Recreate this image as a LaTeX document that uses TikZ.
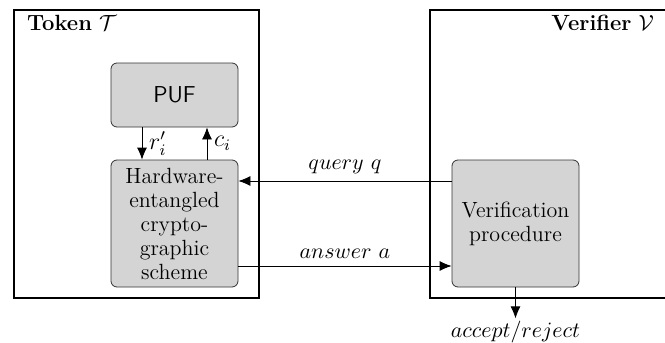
\documentclass[tikz,border=0pt]{standalone}
\usetikzlibrary{arrows.meta}
\begin{document}
\begin{tikzpicture}[x=0.5pt,y=-0.5pt,>={Latex[length=6pt,width=5pt]},font=\fontsize{11}{12}\selectfont]
	\clip (0,0) rectangle (665,343);
	
	\node (token) [draw,line width=1pt,minimum width=122.5pt,minimum height=144pt,inner sep=0pt] at (136.5,154) {};
	\node (verifier) [draw,line width=1pt,minimum width=130pt,minimum height=144pt,inner sep=0pt] at (560,154) {};
	\node (tokentitle) [anchor=west] at (20,23) {\textbf{Token} $\mathcal{T}$};
	\node (verifiertitle) [anchor=east] at (661,23) {\textbf{Verifier} $\mathcal{V}$};
	\begin{scope}[every node/.style={rectangle,draw=black!80,fill=black!17,rounded corners=3pt,minimum width=63.5pt,align=center,inner sep=1pt}]
		\node (puf) [minimum height=32pt,font=\sffamily\fontsize{11.5}{12}\selectfont] at (174.5,95) {PUF};
		\node (scheme) [minimum height=63.5pt] at (174.5,223.5) {Hardware-\\entangled\\crypto-\\graphic\\scheme};
		\node (verif) [minimum height=63.5pt] at (515.5,223.5) {Verification\\procedure};
	\end{scope}
	
	\draw [->] ([xshift=-16.25pt]puf.south) -- ([xshift=-16.25pt]scheme.north) node [midway,right,font=\large] {$r'_i$};
	\draw [->] ([xshift=16.25pt]scheme.north) -- ([xshift=16.25pt]puf.south) node [midway,right,font=\large] {$c_i$};
	\draw [->] ([yshift=21.25pt]verif.west) -- ([yshift=21.25pt]scheme.east) node [midway,above] {$query\ q$};
	\draw [->] ([yshift=-21.25pt]scheme.east) -- ([yshift=-21.25pt]verif.west) node [midway,above] {$answer\ a$};
	\draw [->] (verif.south) -- ++(0,31) node (result) [below,inner sep=1pt] {$accept/reject$};
\end{tikzpicture}
\end{document}
